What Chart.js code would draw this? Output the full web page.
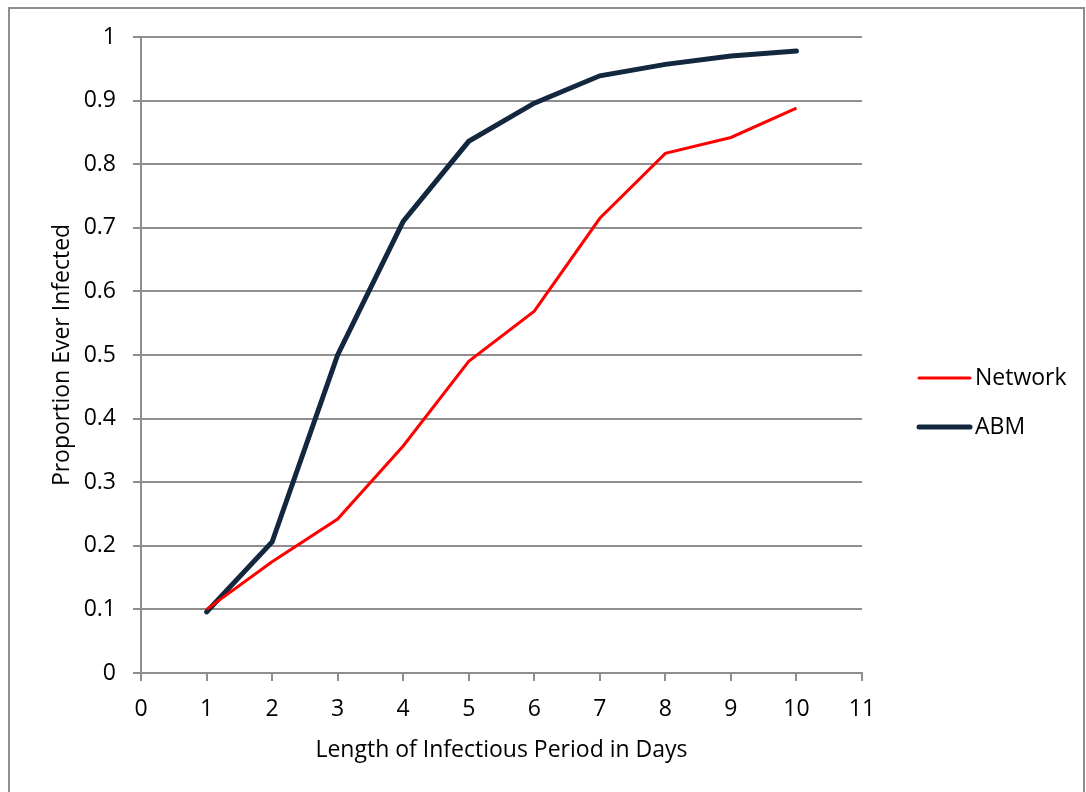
<!DOCTYPE html>
<html>
<head>
<meta charset="utf-8">
<script src="https://cdn.jsdelivr.net/npm/chart.js@4"></script>
<style>
  html, body { margin: 0; padding: 0; background: #fff; }
  #wrap { position: relative; width: 1086px; height: 792px; }
</style>
</head>
<body>
<div id="wrap"><canvas id="chart" width="1086" height="792"></canvas></div>
<script>
// Data
const days = [1, 2, 3, 4, 5, 6, 7, 8, 9, 10];
const networkValues = [0.100, 0.175, 0.242, 0.357, 0.490, 0.569, 0.715, 0.817, 0.842, 0.888];
const abmValues = [0.096, 0.206, 0.500, 0.710, 0.836, 0.896, 0.939, 0.957, 0.970, 0.978];
const seriesNames = ['Network', 'ABM'];

const FONT = '"Open Sans", "Noto Sans", sans-serif';
const FONT_SIZE = 23;
const gridColor = '#8e8e8e';

const toPoints = (values) => values.map((v, i) => ({ x: days[i], y: v }));

// Draw the legend and the outer frame by hand, Excel-like
const sideLegend = {
  id: 'sideLegend',
  afterDraw: (chart) => {
    const ctx = chart.ctx;
    ctx.save();
    // outer frame
    ctx.strokeStyle = '#8e8e8e';
    ctx.lineWidth = 2;
    ctx.strokeRect(9, 8, 1075, 800);

    const rows = [378, 427];
    chart.data.datasets.forEach((ds, i) => {
      const y = rows[i];
      ctx.strokeStyle = ds.borderColor;
      ctx.lineWidth = ds.borderWidth;
      ctx.lineCap = 'round';
      ctx.beginPath();
      ctx.moveTo(919, y);
      ctx.lineTo(970, y);
      ctx.stroke();
      ctx.fillStyle = '#000';
      ctx.font = FONT_SIZE + 'px ' + FONT;
      ctx.textBaseline = 'middle';
      ctx.textAlign = 'left';
      ctx.fillText(ds.label, 975, y);
    });
    ctx.restore();
  }
};

new Chart(document.getElementById('chart'), {
  type: 'line',
  data: {
    datasets: [
      {
        label: seriesNames[0],
        data: toPoints(networkValues),
        borderColor: '#ff0000',
        borderWidth: 3,
        pointRadius: 0,
        tension: 0
      },
      {
        label: seriesNames[1],
        data: toPoints(abmValues),
        borderColor: '#13273f',
        borderWidth: 5,
        borderCapStyle: 'round',
        pointRadius: 0,
        tension: 0
      }
    ]
  },
  options: {
    responsive: false,
    animation: false,
    layout: { padding: { left: 0, top: 37, right: 224, bottom: 0 } },
    plugins: {
      legend: { display: false },
      tooltip: { enabled: false }
    },
    scales: {
      x: {
        type: 'linear',
        min: 0,
        max: 11,
        ticks: { stepSize: 1, color: '#000', padding: 15, font: { family: FONT, size: FONT_SIZE } },
        grid: { display: true, drawOnChartArea: false, color: gridColor, lineWidth: 2, tickLength: 8 },
        border: { color: gridColor, width: 2 },
        title: {
          display: true,
          text: 'Length of Infectious Period in Days',
          color: '#000',
          font: { family: FONT, size: FONT_SIZE },
          padding: { top: 0, bottom: 28 }
        },
        afterFit: (scale) => { scale.height = 792 - 673; }
      },
      y: {
        min: 0,
        max: 1,
        ticks: {
          stepSize: 0.1,
          color: '#000',
          padding: 17,
          font: { family: FONT, size: FONT_SIZE },
          callback: (v) => String(Math.round(v * 10) / 10)
        },
        grid: { color: gridColor, lineWidth: 2, tickLength: 8 },
        border: { color: gridColor, width: 2 },
        title: {
          display: true,
          text: 'Proportion Ever Infected',
          color: '#000',
          font: { family: FONT, size: FONT_SIZE },
          padding: { top: 49, bottom: 0 }
        },
        afterFit: (scale) => { scale.width = 141; }
      }
    }
  },
  plugins: [sideLegend]
});
</script>
</body>
</html>
